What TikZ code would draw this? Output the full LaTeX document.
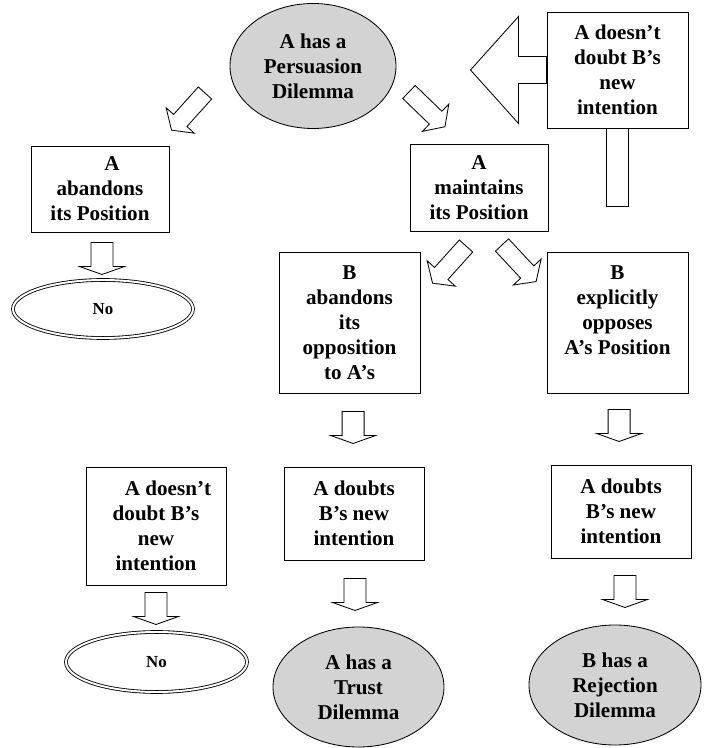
\documentclass[tikz,border=0pt]{standalone}
\usepackage{fontspec}
\setmainfont{Liberation Serif}
\usepackage{xcolor}
\usepackage{tikz}
\usetikzlibrary{shapes.geometric, calc}

\definecolor{dilemmagray}{RGB}{211,211,211}

\begin{document}
\begin{tikzpicture}[
    font=\bfseries\fontsize{15}{17.8}\selectfont,
    box/.style={rectangle, draw, line width=0.7pt, align=center, inner sep=0pt},
    dilemma/.style={ellipse, draw, fill=dilemmagray, line width=0.6pt, align=center, inner sep=0pt},
    outcome/.style={ellipse, draw, double, double distance=1.4pt, line width=0.6pt, inner sep=0pt, font=\bfseries\fontsize{12}{14}\selectfont},
    blockline/.style={draw, line width=0.6pt, fill=white},
    pics/downarrow/.style={code={
        \draw[blockline] (0,-0.275) -- (0.6,-0.275) -- (0.6,-0.5625) -- (0.8,0) -- (0.6,0.5625) -- (0.6,0.275) -- (0,0.275) -- cycle;}},
    pics/diagarrow/.style={code={
        \draw[blockline] (0,-0.225) -- (0.925,-0.225) -- (0.925,-0.475) -- (1.25,0) -- (0.925,0.475) -- (0.925,0.225) -- (0,0.225) -- cycle;}},
    pics/backarrow/.style={code={
        \draw[blockline] (0,-0.3375) -- (0.7,-0.3375) -- (0.7,-1.3375) -- (1.9,0) -- (0.7,1.3375) -- (0.7,0.3375) -- (0,0.3375) -- cycle;}}
]
\useasboundingbox (0,0) rectangle (17.825,18.7);

% Persuasion dilemma and the way back
\node[dilemma, minimum width=4.15cm, minimum height=3.125cm] (persu) at (7.825, 17.05) {A has a\\Persuasion\\Dilemma};
\node[box, minimum width=3.525cm, minimum height=2.9cm] (doubtT) at (15.4375, 16.95) {A doesn't\\doubt B's\\new\\intention};
\node[box, minimum width=0.55cm, minimum height=1.95cm, anchor=north] (stem) at (doubtT.south) {};
\pic[rotate=180] (backarr) at (doubtT.west) {backarrow};

% A abandons or maintains
\node[box, minimum width=3.45cm, minimum height=2.15cm] (abandA) at (2.5, 13.975) {\hspace*{0.6cm}A\\abandons\\its Position};
\node[box, minimum width=3.45cm, minimum height=2.175cm] (maintA) at (11.975, 14.0125) {A\\maintains\\its Position};
\node[outcome, minimum width=4.5cm, minimum height=1.45cm] (noA) at (2.575, 10.975) {No};

% B reacts
\node[box, minimum width=3.525cm, minimum height=3.525cm] (abandB) at (8.7375, 10.6375) {B\\abandons\\its\\opposition\\to A's};
\node[box, minimum width=3.525cm, minimum height=3.525cm] (opposeB) at (15.4375, 10.6375) {B\\explicitly\\opposes\\A's Position\\\mbox{}};

% A doubts or not
\node[box, minimum width=3.5cm, minimum height=2.95cm] (doubtL) at (3.9, 5.55) {\hspace*{0.6cm}A doesn't\\doubt B's\\new\\intention};
\node[box, minimum width=3.5cm, minimum height=2.325cm] (doubtM) at (8.85, 5.8625) {A doubts\\B's new\\intention};
\node[box, minimum width=3.5cm, minimum height=2.325cm] (doubtR) at (15.525, 5.9125) {A doubts\\B's new\\intention};

% Outcomes
\node[outcome, minimum width=4.525cm, minimum height=1.5cm] (noL) at (3.9125, 2.15) {No};
\node[dilemma, minimum width=4.275cm, minimum height=3cm] (trust) at (8.9625, 1.525) {A has a\\Trust\\Dilemma};
\node[dilemma, minimum width=4.3cm, minimum height=3cm] (reject) at (15.375, 1.575) {B has a\\Rejection\\Dilemma};

% Block arrows
\pic[rotate=228] (toAband) at ($(persu.center)+(-2.7,-0.675)$) {diagarrow};
\pic[rotate=-44] (toMaint) at ($(persu.center)+(2.4,-0.65)$) {diagarrow};
\pic[rotate=228] (toBaband) at ($(maintA.center)+(-0.325,-1.4625)$) {diagarrow};
\pic[rotate=-47] (toBoppose) at ($(maintA.center)+(0.575,-1.4375)$) {diagarrow};
\pic[rotate=-90] (downA) at ($(abandA.south)+(0.05,-0.25)$) {downarrow};
\pic[rotate=-90] (downB) at ($(abandB.south)+(0.09,-0.45)$) {downarrow};
\pic[rotate=-90] (downC) at ($(opposeB.south)+(0.04,-0.4)$) {downarrow};
\pic[rotate=-90] (downL) at ($(doubtL.south)+(0,-0.175)$) {downarrow};
\pic[rotate=-90] (downM) at ($(doubtM.south)+(0.025,-0.45)$) {downarrow};
\pic[rotate=-90] (downR) at ($(doubtR.south)+(0.1,-0.425)$) {downarrow};

\end{tikzpicture}
\end{document}
